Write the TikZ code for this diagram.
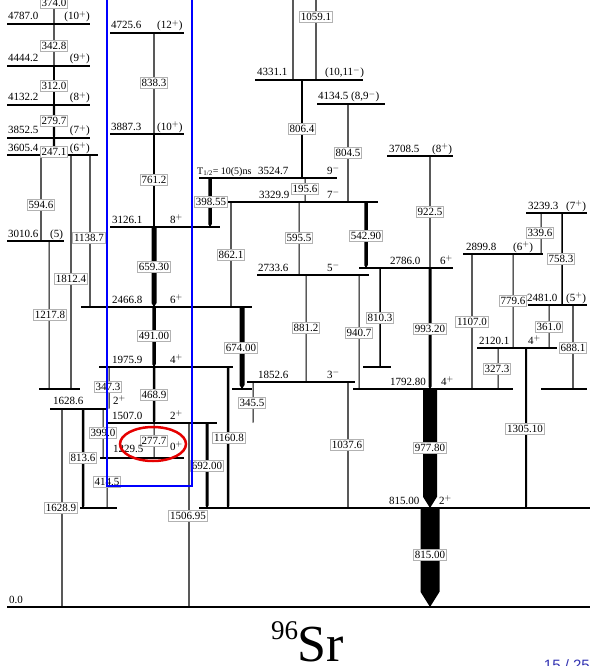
\documentclass[tikz,border=0pt]{standalone}
\usepackage{fontspec}
\setmainfont{Liberation Serif}
\setsansfont{Liberation Sans}
\newcount\nc
\newcommand\lab[4][gl]{\global\advance\nc by 1 \edef\tmpn{n\the\nc}\node[#1,name/.expand once=\tmpn] at (#2,#3) {#4};}
\newcommand\lev[3]{\draw[lev] (#2,#1) -- (#3,#1);}
\newcommand\gam[4]{\fill (#1-#4/2,#2) -- (#1+#4/2,#2) -- (#1+#4/2,#3-0.8*#4) -- (#1,#3) -- (#1-#4/2,#3-0.8*#4) -- cycle;}
\begin{document}
\begin{tikzpicture}[x=1pt,y=-1pt,
 lev/.style={line width=1.3pt},
 gl/.style={draw=black!30, fill=white, line width=0.6pt, inner xsep=1.4pt, inner ysep=1.6pt, text height=7.4pt, text depth=0pt, font=\fontsize{11}{11}\selectfont},
 el/.style={anchor=base west, inner sep=0pt, font=\fontsize{11}{11}\selectfont},
 er/.style={anchor=base east, inner sep=0pt, font=\fontsize{11}{11}\selectfont}]
\useasboundingbox (0,0) rectangle (590,666);
\clip (0,0) rectangle (590,666);
% levels
\draw[line width=2.5pt] (7,607) -- (590,607);
\lev{508}{199}{590}
\lev{508}{80}{117}
\lev{458}{100}{184}
\lev{423}{108}{217}
\lev{409}{50}{108}
\lev{389}{39}{80}
\lev{389}{232}{252}
\lev{389}{353}{513}
\lev{389}{541}{587}
\lev{382}{247}{355}
\lev{367}{99}{233}
\lev{367}{363}{391}
\lev{348}{477}{557}
\lev{307}{81}{252}
\lev{305}{528}{587}
\lev{275}{257}{369}
\lev{268}{359}{453}
\lev{254}{463}{543}
\lev{241}{7}{64}
\lev{227}{110}{220}
\lev{213}{526}{587}
\lev{202}{228}{378}
\lev{178}{199}{337}
\lev{155}{7}{98}
\lev{156}{387}{453}
\lev{138}{7}{90}
\lev{134}{110}{184}
\lev{105}{7}{90}
\lev{104}{317}{385}
\lev{80}{255}{363}
\lev{66}{7}{90}
\lev{33}{110}{184}
\lev{24}{7}{90}
% transitions
\gam{54}{-5}{24}{1.3}
\gam{54}{24}{66}{1.3}
\gam{54}{66}{105}{1.6}
\gam{54}{105}{138}{2.2}
\gam{54}{138}{155}{2.2}
\gam{41}{155}{241}{1.1}
\gam{49}{241}{389}{1}
\gam{71}{155}{389}{1.3}
\gam{90}{155}{307}{1.3}
\gam{109}{367}{409}{1}
\gam{103}{409}{458}{1}
\gam{83}{409}{508}{2.5}
\gam{107}{458}{508}{1}
\gam{62}{409}{607}{1.3}
\gam{154}{33}{134}{1.3}
\gam{154}{134}{227}{1.6}
\gam{154}{227}{307}{5}
\gam{154}{307}{367}{3.5}
\gam{154}{367}{423}{2.5}
\gam{154}{423}{458}{1}
\gam{189}{423}{607}{1.3}
\gam{207}{423}{508}{3}
\gam{228}{367}{508}{2.5}
\gam{210}{178}{227}{3.5}
\gam{231}{202}{307}{1.1}
\gam{242}{307}{389}{5}
\gam{253}{382}{423}{1}
\gam{348}{382}{508}{1.1}
\gam{293}{-5}{80}{1.3}
\gam{316}{-5}{80}{1.1}
\gam{302}{80}{178}{1.8}
\gam{305}{178}{202}{1}
\gam{348}{104}{202}{1.3}
\gam{366}{202}{268}{3.5}
\gam{299}{202}{275}{1}
\gam{306}{275}{382}{1}
\gam{359}{275}{389}{1}
\gam{380}{268}{367}{1.5}
\gam{430}{156}{268}{1.3}
\gam{430}{268}{389}{3}
\gam{430}{389}{508}{14}
\gam{430}{508}{607}{19}
\gam{472}{254}{389}{1.3}
\gam{541}{213}{254}{1}
\gam{562}{213}{305}{1.5}
\gam{513}{254}{348}{1}
\gam{549}{305}{348}{1}
\gam{573}{305}{389}{1.3}
\gam{498}{348}{389}{1}
\gam{526}{348}{508}{2}
% transition labels
\lab{54}{3}{374.0}
\lab{54}{46}{342.8}
\lab{54}{86}{312.0}
\lab{54}{121}{279.7}
\lab{54}{152}{247.1}
\lab{41}{205}{594.6}
\lab{50}{315}{1217.8}
\lab{71}{279}{1812.4}
\lab{89}{238}{1138.7}
\lab{108}{387}{347.3}
\lab{103}{433}{399.0}
\lab{83}{458}{813.6}
\lab{107}{482}{414.5}
\lab{61}{508}{1628.9}
\lab{154}{83}{838.3}
\lab{154}{180}{761.2}
\lab{154}{267}{659.30}
\lab{154}{336}{491.00}
\lab{154}{395}{468.9}
\lab{154}{441}{277.7}
\lab{188}{516}{1506.95}
\lab{207}{466}{692.00}
\lab{229}{438}{1160.8}
\lab{211}{202}{398.55}
\lab{231}{255}{862.1}
\lab{241}{348}{674.00}
\lab{252}{403}{345.5}
\lab{347}{445}{1037.6}
\lab{316}{17}{1059.1}
\lab{302}{129}{806.4}
\lab{305}{189}{195.6}
\lab{348}{153}{804.5}
\lab{366}{236}{542.90}
\lab{299}{238}{595.5}
\lab{306}{328}{881.2}
\lab{359}{333}{940.7}
\lab{380}{318}{810.3}
\lab{430}{212}{922.5}
\lab{430}{329}{993.20}
\lab{430}{448}{977.80}
\lab{430}{555}{815.00}
\lab{472}{322}{1107.0}
\lab{540}{233}{339.6}
\lab{561}{259}{758.3}
\lab{513}{301}{779.6}
\lab{549}{327}{361.0}
\lab{573}{348}{688.1}
\lab{497}{369}{327.3}
\lab{525}{429}{1305.10}
% level labels
\lab[el]{9}{603}{0.0}
\lab[el]{389}{504}{815.00}
\lab[el]{439}{504}{2$^{+}$}
\lab[el]{113}{452}{1229.5}
\lab[el]{170}{450}{0$^{+}$}
\lab[el]{112}{419}{1507.0}
\lab[el]{170}{419}{2$^{+}$}
\lab[el]{53}{404}{1628.6}
\lab[el]{113}{404}{2$^{+}$}
\lab[el]{390}{385}{1792.80}
\lab[el]{441}{385}{4$^{+}$}
\lab[el]{258}{378}{1852.6}
\lab[el]{327}{378}{3$^{-}$}
\lab[el]{112}{363}{1975.9}
\lab[el]{170}{363}{4$^{+}$}
\lab[el]{479}{344}{2120.1}
\lab[el]{528}{344}{4$^{+}$}
\lab[el]{112}{303}{2466.8}
\lab[el]{170}{303}{6$^{+}$}
\lab[el]{527}{301}{2481.0}
\lab[el]{566}{301}{(5$^{+}$)}
\lab[el]{258}{271}{2733.6}
\lab[el]{327}{271}{5$^{-}$}
\lab[el]{390}{264}{2786.0}
\lab[el]{440}{264}{6$^{+}$}
\lab[el]{466}{250}{2899.8}
\lab[el]{513}{250}{(6$^{+}$)}
\lab[el]{8}{237}{3010.6}
\lab[el]{50}{237}{(5)}
\lab[el]{112}{223}{3126.1}
\lab[el]{170}{223}{8$^{+}$}
\lab[el]{528}{209}{3239.3}
\lab[el]{566}{209}{(7$^{+}$)}
\lab[el]{259}{198}{3329.9}
\lab[el]{327}{198}{7$^{-}$}
\lab[el,font=\fontsize{10}{10}\selectfont]{197}{174}{T\textsubscript{1/2}= 10(5)ns}
\lab[el]{258}{174}{3524.7}
\lab[el]{327}{174}{9$^{-}$}
\lab[el]{8}{151}{3605.4}
\lab[er]{90}{151}{(6$^{+}$)}
\lab[el]{389}{152}{3708.5}
\lab[el]{432}{152}{(8$^{+}$)}
\lab[el]{8}{134}{3852.5}
\lab[er]{90}{134}{(7$^{+}$)}
\lab[el]{111}{130}{3887.3}
\lab[el]{157}{130}{(10$^{+}$)}
\lab[el]{8}{101}{4132.2}
\lab[er]{90}{101}{(8$^{+}$)}
\lab[el]{318}{100}{4134.5 (8,9$^{-}$)}
\lab[el]{257}{76}{4331.1}
\lab[el]{325}{76}{(10,11$^{-}$)}
\lab[el]{8}{62}{4444.2}
\lab[er]{90}{62}{(9$^{+}$)}
\lab[el]{111}{29}{4725.6}
\lab[el]{157}{29}{(12$^{+}$)}
\lab[el]{8}{20}{4787.0}
\lab[er]{90}{20}{(10$^{+}$)}
% highlights
\draw[blue, line width=2.5pt] (107,-5) rectangle (192,486);
\draw[red!90!black, line width=2.5pt] (153,444) ellipse [x radius=33pt, y radius=17pt];
% nucleus name and page number
\node[anchor=base west, inner sep=0pt, font=\fontsize{27}{27}\selectfont] (mass) at (271,639) {96};
\node[anchor=base west, inner sep=0pt, font=\fontsize{52}{52}\selectfont] (elem) at (297,661) {Sr};
\node[anchor=base east, inner sep=0pt, font=\sffamily\fontsize{15}{15}\selectfont, text={rgb,255:red,51;green,51;blue,178}] (page) at (590,670) {15 / 25};
\end{tikzpicture}
\end{document}
